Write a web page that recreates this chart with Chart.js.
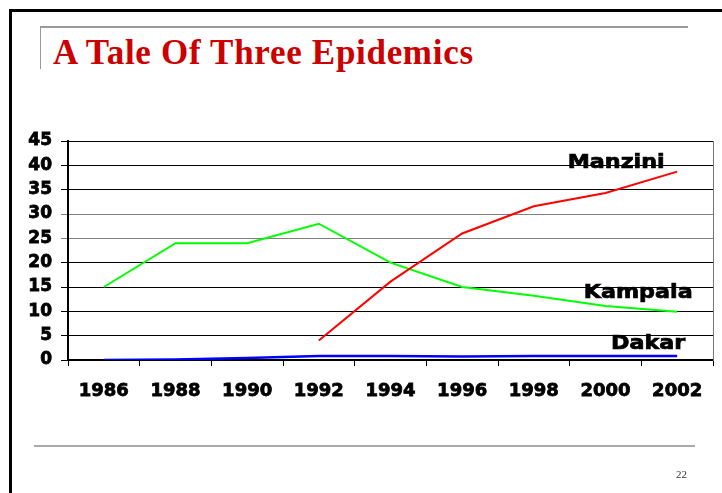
<html>
	<head>
		<title>A Tale Of Three Epidemics</title>
		<script src="https://cdn.jsdelivr.net/npm/chart.js"></script>
		<style>
			body { margin: 0; background: #fff; }
			#slide { position: relative; width: 722px; height: 493px; overflow: hidden; }
			#frame { position: absolute; left: 9px; top: 9px; right: -5px; bottom: -5px; border-top: 3px solid #000; border-left: 3px solid #000; }
			#topline { position: absolute; left: 40px; top: 26px; width: 648px; height: 0; border-top: 2px solid #999; }
			#sideline { position: absolute; left: 40px; top: 26px; width: 0; height: 43px; border-left: 1px solid #999; }
			#title { position: absolute; left: 53px; top: 33px; font: bold 35px "Liberation Serif", serif; color: #cc0000; letter-spacing: 0.7px; white-space: nowrap; }
			#bottomline { position: absolute; left: 34px; top: 445px; width: 661px; height: 0; border-top: 2px solid #aaa; }
			#pagenum { position: absolute; left: 676px; top: 468px; font: 11px "Liberation Serif", serif; color: #333; }
			#chart { position: absolute; left: 0; top: 0; }
		</style>
	</head>
	<body>
		<div id="slide">
			<div id="frame"></div>
			<div id="topline"></div>
			<div id="sideline"></div>
			<div id="title">A Tale Of Three Epidemics</div>
			<canvas id="chart" width="722" height="493"></canvas>
			<div id="bottomline"></div>
			<div id="pagenum">22</div>
		</div>
	</body>
<script>
	var years = ['1986', '1988', '1990', '1992', '1994', '1996', '1998', '2000', '2002'];
	var manzini = [null, null, null, 4, 16.1, 26, 31.6, 34.3, 38.7];
	var kampala = [15, 24, 24, 28, 20, 15, 13.2, 11.1, 9.9];
	var dakar = [0, 0.1, 0.4, 0.8, 0.8, 0.7, 0.8, 0.8, 0.8];

	// city names written next to the line ends (value = baseline, dx = shift from last point)
	var endLabels = [
		{ text: 'Manzini', value: 39.5, dx: -61 },
		{ text: 'Kampala', value: 12.8, dx: -39 },
		{ text: 'Dakar', value: 2.3, dx: -29 }
	];

	var labelPlugin = {
		id: 'endLabels',
		afterDatasetsDraw: function(chart) {
			var ctx = chart.ctx;
			var xs = chart.scales.x, ys = chart.scales.y;
			var last = years.length - 1;
			endLabels.forEach(function(l) {
				ctx.save();
				ctx.translate(xs.getPixelForValue(last) + l.dx, ys.getPixelForValue(l.value));
				ctx.scale(1.17, 1);
				ctx.font = 'bold 19px "DejaVu Sans"';
				ctx.fillStyle = '#000';
				ctx.strokeStyle = '#000';
				ctx.lineWidth = 0.7;
				ctx.textAlign = 'center';
				ctx.textBaseline = 'alphabetic';
				ctx.strokeText(l.text, 0, 0);
				ctx.fillText(l.text, 0, 0);
				ctx.restore();
			});
		}
	};

	new Chart(document.getElementById('chart'), {
		type: 'line',
		data: {
			labels: years,
			datasets: [{
					label: 'Manzini',
					data: manzini,
					borderColor: '#ff0000',
					borderWidth: 2,
					pointRadius: 0,
					tension: 0
				},
				{
					label: 'Kampala',
					data: kampala,
					borderColor: '#00ff00',
					borderWidth: 2,
					pointRadius: 0,
					tension: 0
				},
				{
					label: 'Dakar',
					data: dakar,
					borderColor: '#0000ff',
					borderWidth: 2.5,
					pointRadius: 0,
					tension: 0
				}
			]
		},
		options: {
			responsive: false,
			animation: false,
			layout: { padding: { left: 0, top: 141, right: 9, bottom: 93 } },
			plugins: {
				legend: { display: false },
				title: { display: false },
				tooltip: { enabled: false }
			},
			scales: {
				x: {
					offset: true,
					afterFit: function(s) { s.height = 40; },
					grid: { offset: true, drawOnChartArea: false, tickLength: 6, color: '#000' },
					border: { color: '#000', width: 2 },
					ticks: {
						color: '#000', padding: 15,
						textStrokeColor: '#000', textStrokeWidth: 0.8,
						font: { family: 'DejaVu Sans', size: 18, weight: 'bold' }
					}
				},
				y: {
					min: 0,
					max: 45,
					afterFit: function(s) { s.width = 68; },
					grid: {
						tickLength: 7,
						color: function(c) {
							return c.tick && (c.tick.value === 25 || c.tick.value === 30) ? '#808080' : '#000';
						}
					},
					border: { color: '#000', width: 2 },
					ticks: {
						stepSize: 5, color: '#000', padding: 9,
						textStrokeColor: '#000', textStrokeWidth: 0.8,
						font: { family: 'DejaVu Sans', size: 17, weight: 'bold' }
					}
				},
				y2: {
					position: 'right',
					afterFit: function(s) { s.width = 0; },
					grid: { display: false },
					border: { color: '#777', width: 1 },
					ticks: { display: false }
				}
			}
		},
		plugins: [labelPlugin]
	});
</script>
</html>
